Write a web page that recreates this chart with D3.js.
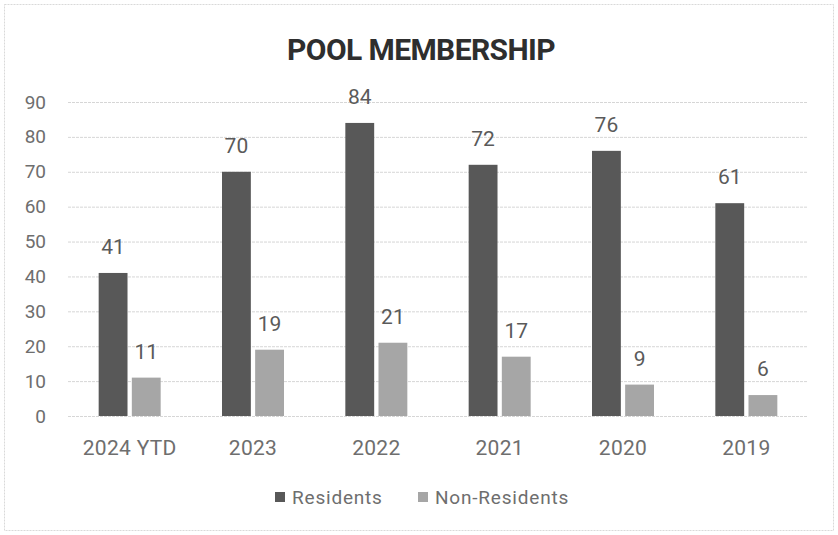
<!DOCTYPE html>
<html lang="en">
<head>
    <meta charset="UTF-8">
    <title>Pool Membership</title>
    <script src="https://cdn.jsdelivr.net/npm/d3@7"></script>
    <style>
        body { margin: 0; background: #fff; }
        text { font-family: "Roboto", sans-serif; }
    </style>
</head>
<body>
<script>
    var categories = ["2024 YTD", "2023", "2022", "2021", "2020", "2019"];
    var residents = [41, 70, 84, 72, 76, 61];
    var nonResidents = [11, 19, 21, 17, 9, 6];
    var yTicks = [0, 10, 20, 30, 40, 50, 60, 70, 80, 90];
    var seriesNames = ["Residents", "Non-Residents"];

    var w = 838;
    var h = 535;
    var colors = ["#585858", "#a6a6a6"];

    var svg = d3.select("body")
        .append("svg")
        .attr("width", w)
        .attr("height", h);

    // outer frame of the chart area
    svg.append("rect")
        .attr("x", 4.5).attr("y", 4.5)
        .attr("width", w - 9).attr("height", h - 9)
        .attr("fill", "#fff")
        .attr("stroke", "#d9d9d9")
        .attr("stroke-dasharray", "2,1");

    var xScale = d3.scaleBand()
        .domain(categories)
        .range([68, 808]);
    var yScale = d3.scaleLinear()
        .domain([0, 90])
        .range([416, 102]);
    var xInner = d3.scaleBand()
        .domain(seriesNames)
        .range([0, 62])
        .paddingInner(0.13);

    // gridlines
    svg.selectAll("line.grid")
        .data(yTicks)
        .enter()
        .append("line")
        .attr("class", "grid")
        .attr("x1", 68).attr("x2", 808)
        .attr("y1", function (d) { return yScale(d) + 0.5; })
        .attr("y2", function (d) { return yScale(d) + 0.5; })
        .attr("stroke", "#d6d6d6")
        .attr("stroke-dasharray", "3,1");

    // y axis labels
    var yAxis = d3.axisLeft(yScale).tickValues(yTicks).tickSize(0).tickPadding(0);
    var gy = svg.append("g").attr("transform", "translate(46,0)").call(yAxis);
    gy.select(".domain").remove();
    gy.selectAll("text")
        .attr("fill", "#6e6e6e")
        .style("font-size", "19px");

    // x axis labels
    var xAxis = d3.axisBottom(xScale).tickSize(0).tickPadding(0);
    var gx = svg.append("g").attr("transform", "translate(0,455)").call(xAxis);
    gx.select(".domain").remove();
    gx.selectAll("text")
        .attr("y", 0)
        .attr("dy", null)
        .attr("fill", "#6e6e6e")
        .style("font-size", "21px")
        .style("letter-spacing", "0.3px");

    var rows = categories.map(function (c, i) {
        return { cat: c, values: [residents[i], nonResidents[i]] };
    });

    var groups = svg.selectAll("g.cat")
        .data(rows)
        .enter()
        .append("g")
        .attr("class", "cat")
        .attr("transform", function (d) {
            return "translate(" + (xScale(d.cat) + xScale.bandwidth() / 2 - 31) + ",0)";
        });

    var bars = groups.selectAll("g.bar")
        .data(function (d) {
            return d.values.map(function (v, j) { return { name: seriesNames[j], v: v, j: j }; });
        })
        .enter()
        .append("g")
        .attr("class", "bar");

    bars.append("rect")
        .attr("x", function (d) { return xInner(d.name); })
        .attr("y", function (d) { return yScale(d.v); })
        .attr("width", xInner.bandwidth())
        .attr("height", function (d) { return yScale(0) - yScale(d.v); })
        .attr("fill", function (d) { return colors[d.j]; });

    bars.append("text")
        .text(function (d) { return d.v; })
        .attr("x", function (d) { return xInner(d.name) + xInner.bandwidth() / 2; })
        .attr("y", function (d) { return yScale(d.v) - 19; })
        .attr("text-anchor", "middle")
        .attr("fill", "#5a5a5a")
        .style("font-size", "21px");

    // title
    svg.append("text")
        .text("POOL MEMBERSHIP")
        .attr("x", 421)
        .attr("y", 60)
        .attr("text-anchor", "middle")
        .attr("fill", "#2e2e2e")
        .style("font-size", "30px")
        .style("font-weight", "bold")
        .style("letter-spacing", "-0.6px");

    // legend
    var legendX = [275, 418];
    var legend = svg.selectAll("g.legend")
        .data(seriesNames)
        .enter()
        .append("g")
        .attr("class", "legend")
        .attr("transform", function (d, i) { return "translate(" + legendX[i] + ",492)"; });
    legend.append("rect")
        .attr("width", 10).attr("height", 10)
        .attr("fill", function (d, i) { return colors[i]; });
    legend.append("text")
        .text(function (d) { return d; })
        .attr("x", 17)
        .attr("y", 12)
        .attr("fill", "#6e6e6e")
        .style("font-size", "19px")
        .style("letter-spacing", "0.8px");
</script>
</body>
</html>
